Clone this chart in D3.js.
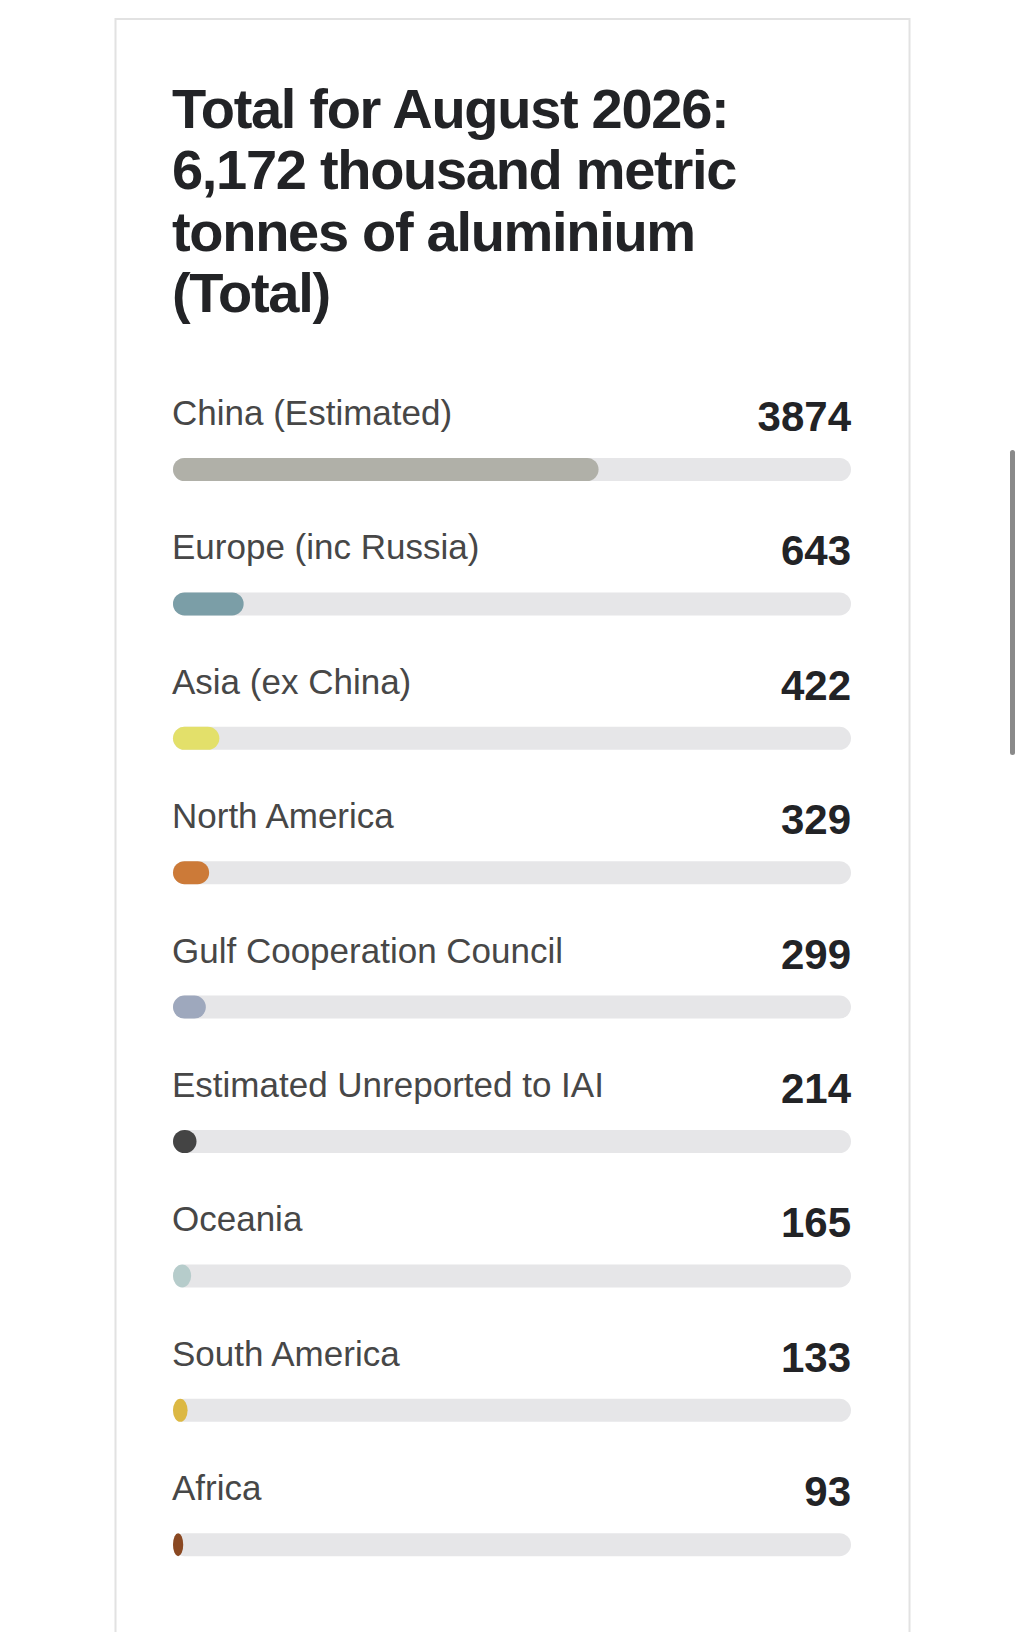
<!DOCTYPE html>
<html>
<head>
<meta charset="utf-8">
<script src="https://cdn.jsdelivr.net/npm/d3@7"></script>
<style>
  html, body { margin: 0; padding: 0; background: #ffffff; }
  svg { display: block; }
</style>
</head>
<body>
<div id="chart"></div>
<script>
const titleLines = ["Total for August 2026:", "6,172 thousand metric", "tonnes of aluminium", "(Total)"];
const total = 6172;
const regions = ["China (Estimated)", "Europe (inc Russia)", "Asia (ex China)", "North America",
  "Gulf Cooperation Council", "Estimated Unreported to IAI", "Oceania", "South America", "Africa"];
const values = [3874, 643, 422, 329, 299, 214, 165, 133, 93];
const colors = ["#b0b0a8", "#7b9ea7", "#e3e06a", "#cc7a38", "#9ea8bd", "#444444", "#b6cccb", "#dcb843", "#8a4822"];

const W = 1024, H = 1632;
const svg = d3.select("#chart").append("svg").attr("width", W).attr("height", H);

// card
svg.append("rect").attr("x", 115.5).attr("y", 19).attr("width", 794).attr("height", 1700)
  .attr("fill", "#ffffff").attr("stroke", "#e2e2e2").attr("stroke-width", 2);

// scrollbar decoration
svg.append("rect").attr("x", 1010).attr("y", 450).attr("width", 5).attr("height", 305)
  .attr("rx", 2.5).attr("fill", "#8a8a8a");

const font = "'Liberation Sans', Arial, sans-serif";

// title
const title = svg.append("text").attr("font-family", font).attr("font-weight", 700)
  .attr("font-size", 56).attr("letter-spacing", -1.3).attr("fill", "#222326");
title.selectAll("tspan").data(titleLines).join("tspan")
  .attr("x", 172).attr("y", (d, i) => 128 + i * 61.4).text(d => d);

// scales
const x = d3.scaleLinear().domain([0, total]).range([173, 851]);
const row = d3.scaleLinear().domain([0, 1]).range([0, 134.4]);
const barH = 23;

const g = svg.append("g");
const rows = g.selectAll("g.row").data(regions).join("g").attr("class", "row")
  .attr("transform", (d, i) => `translate(0,${row(i)})`);

rows.append("text").attr("x", 172).attr("y", 425)
  .attr("font-family", font).attr("font-size", 35).attr("fill", "#474747")
  .text(d => d);

rows.append("text").attr("x", 851).attr("y", 431).attr("text-anchor", "end")
  .attr("font-family", font).attr("font-weight", 700).attr("font-size", 42).attr("fill", "#222326")
  .text((d, i) => values[i]);

rows.append("rect").attr("x", x(0)).attr("y", 458).attr("width", x(total) - x(0)).attr("height", barH)
  .attr("rx", barH / 2).attr("ry", barH / 2).attr("fill", "#e6e6e8");

rows.append("rect").attr("x", x(0)).attr("y", 458).attr("width", (d, i) => x(values[i]) - x(0)).attr("height", barH)
  .attr("rx", barH / 2).attr("ry", barH / 2).attr("fill", (d, i) => colors[i]);
</script>
</body>
</html>
